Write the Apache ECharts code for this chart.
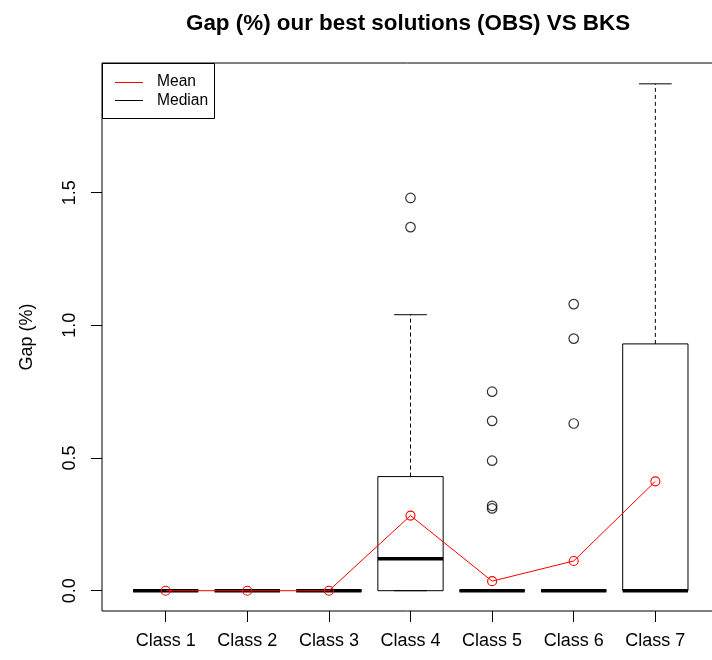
<!DOCTYPE html>
<html>
<head>
<meta charset="utf-8">
<script src="https://cdn.jsdelivr.net/npm/echarts@6/dist/echarts.min.js"></script>
<style>html,body{margin:0;padding:0;background:#fff;}#c{width:712px;height:660px;}</style>
</head>
<body>
<div id="c"></div>
<script>
// ---- data ----
const categories = ['Class 1', 'Class 2', 'Class 3', 'Class 4', 'Class 5', 'Class 6', 'Class 7'];
const whiskerLow = [0, 0, 0, 0, 0, 0, 0];
const q1 = [0, 0, 0, 0, 0, 0, 0];
const median = [0, 0, 0, 0.12, 0, 0, 0];
const q3 = [0, 0, 0, 0.43, 0, 0, 0.93];
const whiskerHigh = [0, 0, 0, 1.04, 0, 0, 1.91];
const means = [0, 0, 0, 0.283, 0.036, 0.112, 0.412];
const outliers = [[], [], [], [1.37, 1.48], [0.75, 0.64, 0.49, 0.32, 0.31], [1.08, 0.95, 0.63], []];
const yTicks = [0, 0.5, 1.0, 1.5];
const titleText = 'Gap (%) our best solutions (OBS) VS BKS';
const yName = 'Gap (%)';
const legendNames = ['Mean', 'Median'];

// ---- build ----
const FONT = "'Liberation Sans', Arial, sans-serif";
const xPos = categories.map((_, i) => i + 1);
const boxData = categories.map((_, i) => [i + 1, whiskerLow[i], q1[i], median[i], q3[i], whiskerHigh[i]]);
const meanData = categories.map((_, i) => [i + 1, means[i]]);
const outlierData = [];
outliers.forEach((arr, i) => arr.forEach(v => outlierData.push([i + 1, v])));

function renderBox(params, api) {
  const x = api.value(0);
  const lo = api.value(1), b1 = api.value(2), md = api.value(3), b3 = api.value(4), hi = api.value(5);
  const half = api.size([0.8, 0])[0] / 2;
  const capHalf = api.size([0.4, 0])[0] / 2;
  const pLo = api.coord([x, lo]), pQ1 = api.coord([x, b1]), pMd = api.coord([x, md]);
  const pQ3 = api.coord([x, b3]), pHi = api.coord([x, hi]);
  const cx = pLo[0];
  const black = '#000';
  const children = [];
  if (hi > b3) {
    children.push({ type: 'line', shape: { x1: cx, y1: pQ3[1], x2: cx, y2: pHi[1] },
      style: { stroke: black, lineWidth: 1, lineDash: [4, 3] } });
  }
  if (b1 > lo) {
    children.push({ type: 'line', shape: { x1: cx, y1: pQ1[1], x2: cx, y2: pLo[1] },
      style: { stroke: black, lineWidth: 1, lineDash: [4, 3] } });
  }
  children.push({ type: 'line', shape: { x1: cx - capHalf, y1: pHi[1], x2: cx + capHalf, y2: pHi[1] },
    style: { stroke: black, lineWidth: 1 } });
  children.push({ type: 'line', shape: { x1: cx - capHalf, y1: pLo[1], x2: cx + capHalf, y2: pLo[1] },
    style: { stroke: black, lineWidth: 1 } });
  children.push({ type: 'rect', shape: { x: cx - half, y: pQ3[1], width: half * 2, height: pQ1[1] - pQ3[1] },
    style: { stroke: black, fill: 'none', lineWidth: 1 } });
  children.push({ type: 'line', shape: { x1: cx - half, y1: pMd[1], x2: cx + half, y2: pMd[1] },
    style: { stroke: black, lineWidth: 3.5 } });
  return { type: 'group', children: children };
}

const chart = echarts.init(document.getElementById('c'), null, { renderer: 'canvas' });
chart.setOption({
  animation: false,
  backgroundColor: '#fff',
  textStyle: { fontFamily: FONT },
  title: {
    text: titleText, left: 181, top: 8,
    textStyle: { fontFamily: FONT, fontSize: 22.4, fontWeight: 'bold', color: '#000' }
  },
  grid: { left: 102, top: 63, width: 617, height: 548, show: true, borderColor: '#000', borderWidth: 1,
          backgroundColor: 'transparent', containLabel: false, outerBoundsMode: 'none' },
  xAxis: {
    type: 'value', min: 0.22, max: 7.78,
    axisLine: { show: false, onZero: false },
    splitLine: { show: false },
    axisTick: { show: true, length: 11, lineStyle: { color: '#000' }, customValues: xPos },
    axisLabel: { show: true, customValues: xPos, margin: 21, fontSize: 18, color: '#000', fontFamily: FONT,
                 formatter: v => categories[Math.round(v) - 1] || '' }
  },
  yAxis: {
    type: 'value', min: -0.0765, max: 1.9885,
    name: yName, nameLocation: 'middle', nameRotate: 90, nameGap: 66,
    nameTextStyle: { fontSize: 18, color: '#000', fontFamily: FONT },
    axisLine: { show: false, onZero: false },
    splitLine: { show: false },
    axisTick: { show: true, length: 11, lineStyle: { color: '#000' }, customValues: yTicks },
    axisLabel: { show: true, customValues: yTicks, rotate: 90, margin: 23, fontSize: 18, color: '#000', fontFamily: FONT,
                 formatter: v => v.toFixed(1) }
  },
  series: [
    { type: 'custom', name: 'box', renderItem: renderBox, data: boxData, encode: { x: 0, y: [1, 2, 3, 4, 5] }, z: 2, clip: false },
    { type: 'scatter', name: 'outliers', data: outlierData, symbol: 'circle', symbolSize: 9.5, z: 3,
      itemStyle: { color: 'rgba(0,0,0,0)', borderColor: '#000', borderWidth: 1.2 } },
    { type: 'line', name: legendNames[0], data: meanData, symbol: 'circle', symbolSize: 9, z: 4,
      lineStyle: { color: '#ff0000', width: 1 },
      itemStyle: { color: 'rgba(0,0,0,0)', borderColor: '#ff0000', borderWidth: 1.1 } }
  ],
  graphic: [
    { type: 'group', left: 102, top: 63, z: 100, children: [
      { type: 'rect', shape: { x: 0.5, y: 0.5, width: 112, height: 55 }, style: { fill: '#fff', stroke: '#000', lineWidth: 1 } },
      { type: 'line', shape: { x1: 13, y1: 19.5, x2: 41, y2: 19.5 }, style: { stroke: '#ff0000', lineWidth: 1 } },
      { type: 'line', shape: { x1: 13, y1: 37.5, x2: 41, y2: 37.5 }, style: { stroke: '#000', lineWidth: 1 } },
      { type: 'text', x: 55, y: 19, style: { text: legendNames[0], fontSize: 15.6, fontFamily: FONT, fill: '#000', verticalAlign: 'middle' } },
      { type: 'text', x: 55, y: 38, style: { text: legendNames[1], fontSize: 15.6, fontFamily: FONT, fill: '#000', verticalAlign: 'middle' } }
    ] }
  ]
});
</script>
</body>
</html>
